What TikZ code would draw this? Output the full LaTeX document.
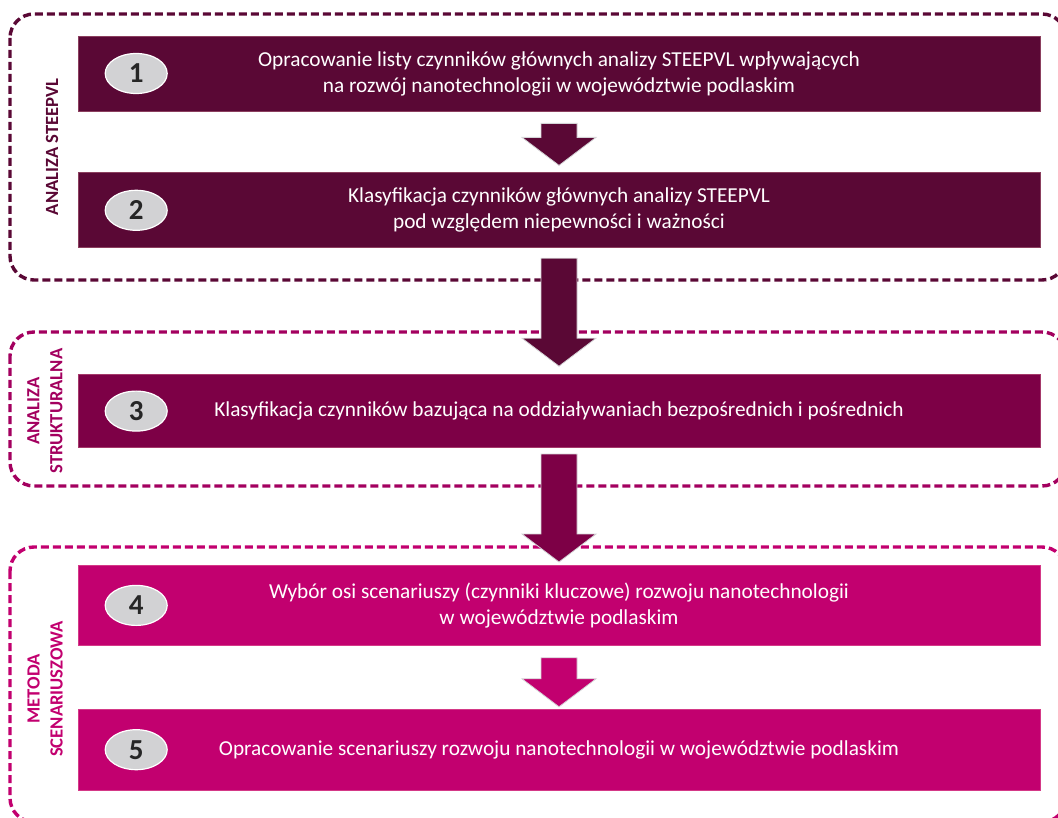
\documentclass[tikz,border=0pt]{standalone}
\usepackage{fontspec}
\setmainfont{Carlito}
\usetikzlibrary{calc,positioning,shapes.geometric}

\definecolor{plum}{HTML}{5A0835}
\definecolor{wine}{HTML}{7D0046}
\definecolor{berry}{HTML}{A3005F}
\definecolor{pinkish}{HTML}{C2006F}
\definecolor{numgrey}{HTML}{D2D2D4}
\definecolor{arrowrim}{HTML}{D4D4D6}

\tikzset{
  stage/.style={rectangle, minimum width=962pt, inner sep=0pt, text=white, align=center,
    font=\fontsize{21.3}{26}\selectfont, line width=0.8pt},
  num/.style={ellipse, fill=numgrey, draw=white, line width=1.2pt, minimum width=62pt,
    minimum height=40pt, inner sep=0pt, text=black!85, font=\fontsize{29}{30}\selectfont\bfseries},
  frame/.style={dashed, dash pattern=on 8pt off 4pt, line width=3.4pt, rounded corners=24pt},
  phase/.style={rotate=90, align=center, font=\fontsize{18.6}{23}\selectfont\bfseries},
  arrowbody/.style={draw=arrowrim, line width=0.8pt}
}

\newcommand{\flowarrow}[3]{%
  \draw[arrowbody, fill=#3] ($(#1)+(-18,0)$) -- ($(#2)+(-18,-28)$) -- ($(#2)+(-37,-28)$)
    -- (#2) -- ($(#2)+(37,-28)$) -- ($(#2)+(18,-28)$) -- ($(#1)+(18,0)$) -- cycle;}

\begin{document}
\begin{tikzpicture}[x=1pt,y=-1pt]
\clip (0,0) rectangle (1058,818);

% dashed groups
\draw[frame, draw=plum] (10,14) rectangle (1066,280);
\draw[frame, draw=berry] (10,332) rectangle (1066,486);
\draw[frame, draw=pinkish] (10,547) rectangle (1066,822);

\node[phase, text=plum] (lab1) at (52,147) {ANALIZA STEEPVL};
\node[phase, text=berry] (lab2) at (45,411) {ANALIZA\\STRUKTURALNA};
\node[phase, text=pinkish] (lab3) at (45,689) {METODA\\SCENARIUSZOWA};

% steps
\node[stage, fill=plum, draw=plum!70!pink, minimum height=75pt] (box1) at (559,73.5)
  {Opracowanie listy czynników głównych analizy STEEPVL wpływających\\na rozwój nanotechnologii w województwie podlaskim};
\node[stage, fill=plum, draw=plum!70!pink, minimum height=75pt, below=61pt of box1] (box2)
  {Klasyfikacja czynników głównych analizy STEEPVL\\pod względem niepewności i ważności};
\node[stage, fill=wine, draw=wine!70!pink, minimum height=73pt, below=126pt of box2] (box3)
  {Klasyfikacja czynników bazująca na oddziaływaniach bezpośrednich i pośrednich};
\node[stage, fill=pinkish, draw=pinkish!70!pink, minimum height=80pt, below=117pt of box3] (box4)
  {Wybór osi scenariuszy (czynniki kluczowe) rozwoju nanotechnologii\\w województwie podlaskim};
\node[stage, fill=pinkish, draw=pinkish!70!pink, minimum height=81pt, below=63pt of box4] (box5)
  {Opracowanie scenariuszy rozwoju nanotechnologii w województwie podlaskim};

\foreach \i in {1,...,5}
  \node[num, right=27pt of box\i.west] (num\i) {\i};

% arrows
\coordinate (a1) at ($(box1.south)+(0,12)$);
\coordinate (t1) at ($(box2.north)+(0,-7)$);
\coordinate (a2) at ($(box2.south)+(0,10)$);
\coordinate (t2) at ($(box3.north)+(0,-8)$);
\coordinate (a3) at ($(box3.south)+(0,6)$);
\coordinate (t3) at ($(box4.north)+(0,-3)$);
\coordinate (a4) at ($(box4.south)+(0,12)$);
\coordinate (t4) at ($(box5.north)+(0,-2)$);
\flowarrow{a1}{t1}{plum}
\flowarrow{a2}{t2}{plum}
\flowarrow{a3}{t3}{wine}
\flowarrow{a4}{t4}{pinkish}
\end{tikzpicture}
\end{document}
